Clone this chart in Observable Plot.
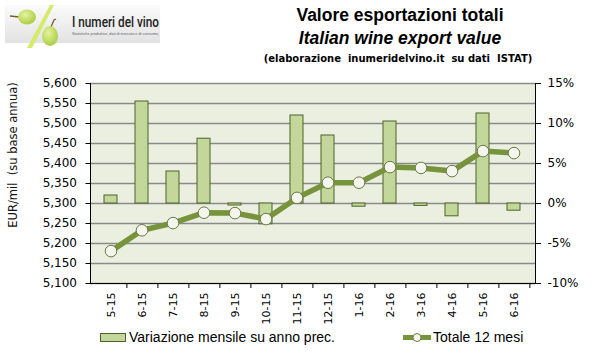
<!DOCTYPE html>
<html>
<head>
<meta charset="utf-8">
<script src="https://cdn.jsdelivr.net/npm/d3@7"></script>
<script src="https://cdn.jsdelivr.net/npm/@observablehq/plot@0.6"></script>
<style>
  body { margin: 0; background: #fff; }
  #wrap { position: relative; width: 599px; height: 356px; overflow: hidden; background: #fff; }
  #chart, #overlay { position: absolute; left: 0; top: 0; }
  #overlay { pointer-events: none; }
</style>
</head>
<body>
<div id="wrap">
  <div id="chart"></div>
  <svg id="overlay" width="599" height="356"></svg>
</div>
<script>
// ---- data ----
const months = ["5-15","6-15","7-15","8-15","9-15","10-15","11-15","12-15","1-16","2-16","3-16","4-16","5-16","6-16"];
const variazione = [1.0, 12.75, 4.0, 8.1, -0.25, -2.6, 11.0, 8.5, -0.4, 10.25, -0.3, -1.6, 11.25, -0.9]; // % (right axis)
const totale12 = [5181, 5233, 5251, 5277, 5276, 5261, 5314, 5352, 5352, 5391, 5389, 5381, 5431, 5426]; // EUR/mil (left axis)
const leftTicks = [5100, 5150, 5200, 5250, 5300, 5350, 5400, 5450, 5500, 5550, 5600];
const rightTicks = [-10, -5, 0, 5, 10, 15];
const seriesNames = ["Variazione mensile su anno prec.", "Totale 12 mesi"];
const titleLines = ["Valore esportazioni totali", "Italian wine export value", "(elaborazione  inumeridelvino.it  su dati  ISTAT)"];
const yTitle = "EUR/mil  (su base annua)";

// secondary axis mapping: right domain [-10,15] onto left domain [5100,5600]
const L0 = leftTicks[0], L1 = leftTicks[leftTicks.length - 1];
const R0 = rightTicks[0], R1 = rightTicks[rightTicks.length - 1];
const toLeft = p => L0 + (p - R0) * (L1 - L0) / (R1 - R0);
const fromLeft = v => R0 + (v - L0) * (R1 - R0) / (L1 - L0);

const data = months.map((m, i) => ({month: m, pct: variazione[i], total: totale12[i]}));

const W = 599, H = 325, mL = 90, mR = 64, mT = 83, mB = 42;
const step = (W - mL - mR) / months.length;

const chart = Plot.plot({
  width: W, height: H,
  marginLeft: mL, marginRight: mR, marginTop: mT, marginBottom: mB,
  style: {fontFamily: "DejaVu Sans, Verdana, sans-serif", fontSize: "11px", color: "#000", background: "transparent", overflow: "visible"},
  x: {domain: months, paddingInner: 0.58, paddingOuter: 0.29, label: null},
  y: {domain: [L0, L1], label: null},
  marks: [
    Plot.frame({fill: "#EBEFDF", stroke: "none"}),
    Plot.gridY(leftTicks, {stroke: "#8a8a8a", strokeOpacity: 1, strokeWidth: 1.3}),
    Plot.barY(data, {x: "month", y1: () => toLeft(0), y2: d => toLeft(d.pct), fill: "#C4D79B", stroke: "#4F6228", strokeWidth: 1}),
    Plot.line(data, {x: "month", y: "total", stroke: "#77933C", strokeWidth: 5.5}),
    Plot.dot(data, {x: "month", y: "total", r: 5.8, fill: "#F4F6EE", stroke: "#6B7A48", strokeWidth: 1}),
    Plot.ruleY([L0], {stroke: "#000", strokeWidth: 1}),
    Plot.frame({anchor: "left", stroke: "#000"}),
    Plot.frame({anchor: "right", stroke: "#000"}),
    Plot.axisY(leftTicks, {anchor: "left", label: null, tickSize: 4.5, tickPadding: 9, fontSize: 12, tickFormat: d3.format(",")}),
    Plot.axisY(rightTicks.map(toLeft), {anchor: "right", label: null, tickSize: 5, tickPadding: 7, fontSize: 12, tickFormat: v => Math.round(fromLeft(v)) + "%"}),
    Plot.axisX({anchor: "bottom", label: null, tickSize: 5, dx: step / 2, tickFormat: () => ""}),
    Plot.axisX({anchor: "bottom", label: null, tickSize: 0, tickPadding: 9, tickRotate: -90, fontSize: 11})
  ]
});
document.getElementById("chart").appendChild(chart);

// ---- overlay: logo, titles, y title, legend ----
const ov = d3.select("#overlay");

// logo
const defs = ov.append("defs");
const g1 = defs.append("linearGradient").attr("id", "lg").attr("x1", 0).attr("y1", 0).attr("x2", 0).attr("y2", 1);
g1.append("stop").attr("offset", "0").attr("stop-color", "#fbfbfb");
g1.append("stop").attr("offset", "1").attr("stop-color", "#e2e2e2");
const gr = defs.append("radialGradient").attr("id", "grape").attr("cx", 0.4).attr("cy", 0.35).attr("r", 0.7);
gr.append("stop").attr("offset", "0").attr("stop-color", "#e4f2a0");
gr.append("stop").attr("offset", "1").attr("stop-color", "#a8cc3c");
const logo = ov.append("g");
logo.append("rect").attr("x", 5).attr("y", 5).attr("width", 155).attr("height", 38).attr("fill", "url(#lg)");
logo.append("path").attr("d", "M10,16 L19,17").attr("stroke", "#7a5a30").attr("stroke-width", 1.3);
logo.append("ellipse").attr("cx", 27).attr("cy", 17).attr("rx", 9).attr("ry", 7.5).attr("fill", "url(#grape)");
logo.append("path").attr("d", "M50,5 L54,5 L32,48 L27,48 Z").attr("fill", "#d6ea6a");
logo.append("path").attr("d", "M51,27 L54,20 L56,19").attr("stroke", "#7a5a30").attr("stroke-width", 1.3).attr("fill", "none");
logo.append("ellipse").attr("cx", 50).attr("cy", 36).attr("rx", 8).attr("ry", 10).attr("fill", "url(#grape)");
logo.append("text").attr("x", 72).attr("y", 27).attr("font-family", "Roboto, Liberation Sans, sans-serif").attr("font-size", 15)
  .attr("font-weight", 500).attr("fill", "#222").attr("textLength", 87).attr("lengthAdjust", "spacingAndGlyphs").text("I numeri del vino");
logo.append("text").attr("x", 72).attr("y", 34.5).attr("font-family", "Liberation Sans, sans-serif").attr("font-size", 4)
  .attr("fill", "#666").attr("textLength", 87).attr("lengthAdjust", "spacingAndGlyphs").text("Statistiche produttive, dati di mercato e di consumo,");

// titles
const tcx = 400;
ov.append("text").attr("x", tcx).attr("y", 21).attr("text-anchor", "middle").attr("font-family", "Liberation Sans, Arial, sans-serif")
  .attr("font-weight", "bold").attr("font-size", 17.5).text(titleLines[0]);
ov.append("text").attr("x", tcx).attr("y", 43.5).attr("text-anchor", "middle").attr("font-family", "Liberation Sans, Arial, sans-serif")
  .attr("font-weight", "bold").attr("font-style", "italic").attr("font-size", 17.5).text(titleLines[1]);
ov.append("text").attr("x", tcx - 2).attr("y", 61.5).attr("text-anchor", "middle").attr("font-family", "DejaVu Sans, Verdana, sans-serif")
  .attr("font-weight", "bold").attr("font-size", 10).style("white-space", "pre").text(titleLines[2]);

// y title
ov.append("text").attr("transform", "translate(17,155) rotate(-90)").attr("text-anchor", "middle")
  .attr("font-family", "DejaVu Sans, Verdana, sans-serif").attr("font-size", 11.5).attr("fill", "#111").style("white-space", "pre").text(yTitle);

// legend
const lg = ov.append("g").attr("font-family", "Liberation Sans, Arial, sans-serif").attr("font-size", 14);
lg.append("rect").attr("x", 100.5).attr("y", 333.5).attr("width", 25).attr("height", 8).attr("fill", "#C4D79B").attr("stroke", "#4F6228");
lg.append("text").attr("x", 129).attr("y", 342).text(seriesNames[0]);
lg.append("line").attr("x1", 403).attr("x2", 431).attr("y1", 337.5).attr("y2", 337.5).attr("stroke", "#77933C").attr("stroke-width", 5);
lg.append("circle").attr("cx", 417).attr("cy", 337.5).attr("r", 4).attr("fill", "#F4F6EE").attr("stroke", "#6B7A48");
lg.append("text").attr("x", 433).attr("y", 342).text(seriesNames[1]);
</script>
</body>
</html>
